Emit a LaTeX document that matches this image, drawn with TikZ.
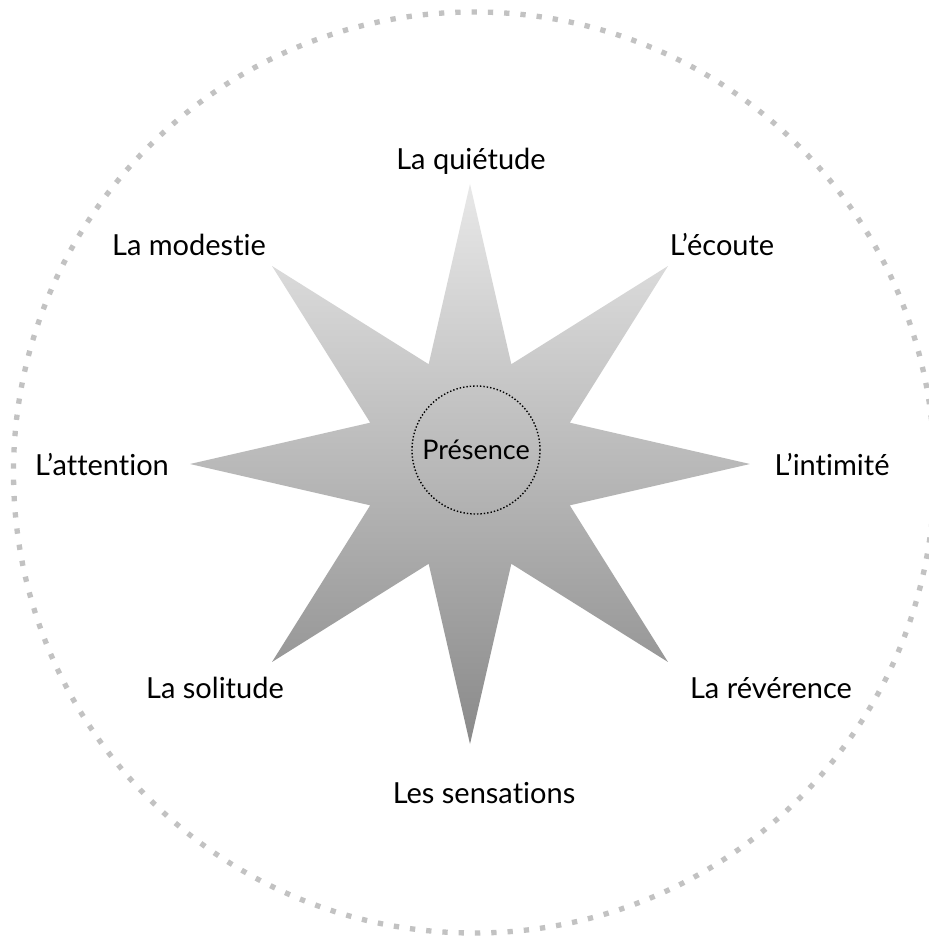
\documentclass[tikz,border=0pt]{standalone}
\usepackage{fontspec}
\setmainfont{Lato}[Ligatures={NoCommon,NoDiscretionary}]
\begin{document}
\begin{tikzpicture}[x=1pt,y=-1pt,
  lbl/.style={anchor=base,font=\fontsize{29}{33}\selectfont,text=black,inner sep=0pt},
  centre/.style={circle,draw=black,dotted,line width=1.4pt,minimum size=128pt,inner sep=0pt,
    font=\fontsize{27}{30}\selectfont},
  outer/.style={draw=gray!48,line width=5.3pt,dash pattern=on 5.3pt off 11pt}]
\useasboundingbox (0,0) rectangle (928,936);
\fill[white] (0,0) rectangle (928,936);
% outer dotted circle
\coordinate (oc) at (474,472.5);
\draw[outer] (oc) circle[radius=460.5];
% star
\coordinate (sc) at (470,464);
\begin{scope}[shift={(sc)}]
\shade[top color=black!9, bottom color=black!46]
  plot[samples at={0,...,15}] ({90+22.5*\x}:{ifthenelse(isodd(\x),108,280)}) -- cycle;
\end{scope}
% centre
\node[centre] (pres) at (476,450) {Présence};
% labels
\node[lbl] (q) at (471,170) {La quiétude};
\node[lbl] (m) at (189,255) {La modestie};
\node[lbl] (e) at (722,255) {L’écoute};
\node[lbl] (a) at (102,475) {L’attention};
\node[lbl] (i) at (832,475) {L’intimité};
\node[lbl] (s) at (215,698) {La solitude};
\node[lbl] (r) at (771,698) {La révérence};
\node[lbl] (n) at (484,803) {Les sensations};
\end{tikzpicture}
\end{document}
